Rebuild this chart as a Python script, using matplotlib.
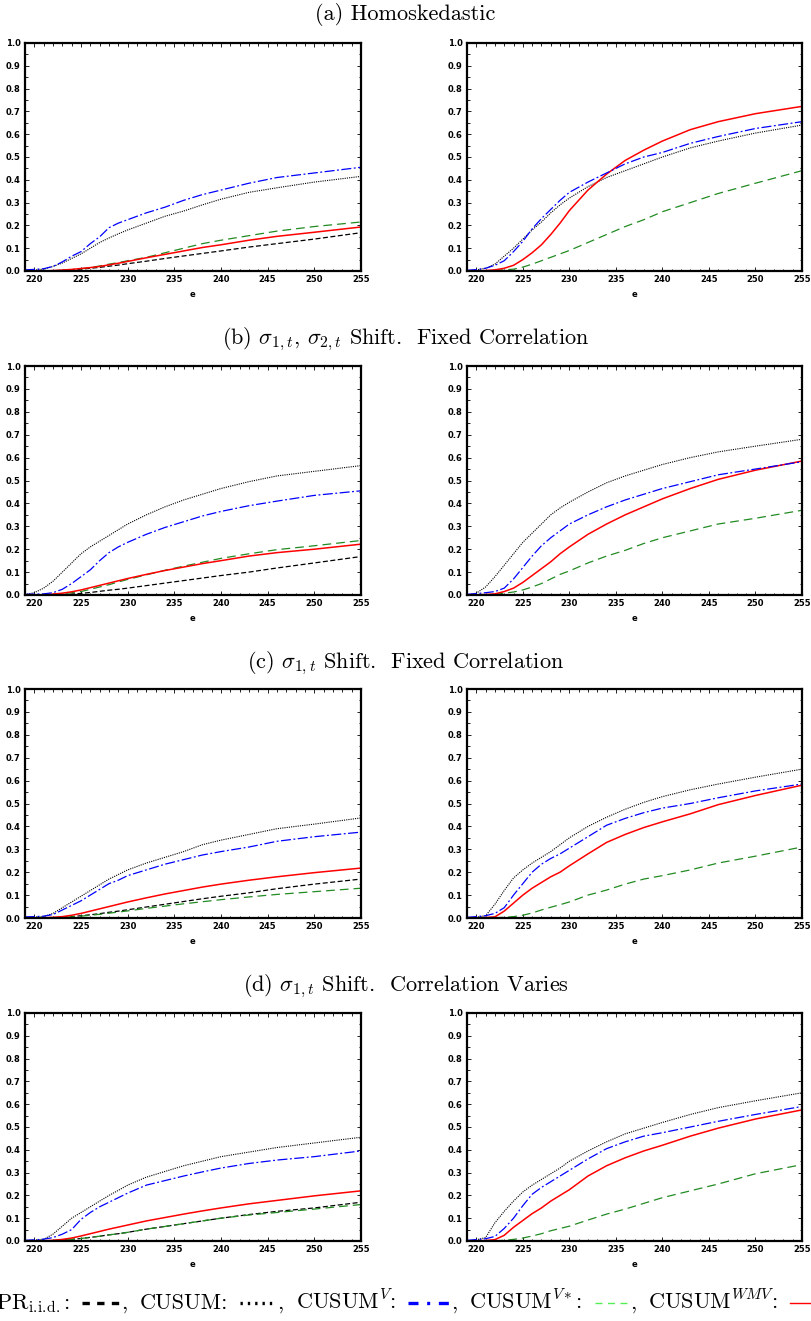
import numpy as np
import matplotlib
matplotlib.use('Agg')
from matplotlib import pyplot as plt
from matplotlib.lines import Line2D
from matplotlib.ticker import MultipleLocator, FormatStrFormatter

plt.rcParams['mathtext.fontset'] = 'cm'

# ---------------------------------------------------------------
# data (e on x, rejection freq on y)
# ---------------------------------------------------------------
e = [219, 220, 221, 222, 223, 224, 225, 226, 227, 228, 229, 230,
     232, 234, 236, 238, 240, 243, 246, 250, 255]

titles = [r'(a) Homoskedastic',
          r'(b) $\sigma_{1,t}$, $\sigma_{2,t}$ Shift.  Fixed Correlation',
          r'(c) $\sigma_{1,t}$ Shift.  Fixed Correlation',
          r'(d) $\sigma_{1,t}$ Shift.  Correlation Varies']

# panel (a)
a_left_pr = [0, 0, 0, 0.001, 0.003, 0.005, 0.008, 0.012, 0.016, 0.021, 0.026, 0.032, 0.043, 0.055, 0.066, 0.077, 0.088, 0.105, 0.12, 0.14, 0.168]
a_left_cusum = [0.003, 0.004, 0.008, 0.02, 0.035, 0.055, 0.075, 0.10, 0.125, 0.145, 0.163, 0.18, 0.21, 0.24, 0.263, 0.29, 0.315, 0.345, 0.365, 0.39, 0.415]
a_left_cusumv = [0.005, 0.007, 0.01, 0.02, 0.04, 0.065, 0.085, 0.12, 0.15, 0.19, 0.21, 0.225, 0.255, 0.28, 0.31, 0.335, 0.355, 0.385, 0.41, 0.43, 0.455]
a_left_vstar = [0, 0, 0, 0.001, 0.003, 0.006, 0.01, 0.015, 0.022, 0.03, 0.037, 0.045, 0.06, 0.08, 0.1, 0.12, 0.135, 0.155, 0.175, 0.195, 0.215]
a_left_wmv = [0, 0, 0, 0.002, 0.004, 0.007, 0.011, 0.015, 0.02, 0.027, 0.034, 0.042, 0.058, 0.073, 0.088, 0.103, 0.115, 0.135, 0.152, 0.17, 0.193]

a_right_cusum = [0.002, 0.005, 0.012, 0.03, 0.065, 0.1, 0.14, 0.18, 0.215, 0.255, 0.29, 0.32, 0.37, 0.41, 0.44, 0.47, 0.5, 0.54, 0.57, 0.605, 0.64]
a_right_cusumv = [0.003, 0.006, 0.012, 0.025, 0.045, 0.085, 0.13, 0.185, 0.23, 0.27, 0.31, 0.345, 0.39, 0.43, 0.47, 0.5, 0.52, 0.56, 0.59, 0.625, 0.655]
a_right_vstar = [0, 0, 0, 0.002, 0.005, 0.008, 0.017, 0.03, 0.045, 0.06, 0.075, 0.09, 0.125, 0.16, 0.195, 0.225, 0.26, 0.3, 0.34, 0.385, 0.44]
a_right_wmv = [0, 0, 0.002, 0.005, 0.012, 0.025, 0.05, 0.08, 0.115, 0.16, 0.21, 0.265, 0.355, 0.425, 0.485, 0.53, 0.57, 0.62, 0.655, 0.69, 0.722]

# panel (b)
b_left_pr = [0, 0, 0, 0.001, 0.002, 0.004, 0.007, 0.011, 0.016, 0.021, 0.025, 0.03, 0.041, 0.052, 0.063, 0.074, 0.085, 0.1, 0.118, 0.14, 0.168]
b_left_cusum = [0.002, 0.01, 0.03, 0.06, 0.1, 0.14, 0.18, 0.21, 0.235, 0.26, 0.285, 0.31, 0.35, 0.385, 0.415, 0.44, 0.465, 0.495, 0.52, 0.54, 0.565]
b_left_cusumv = [0.003, 0.004, 0.005, 0.01, 0.025, 0.05, 0.08, 0.11, 0.15, 0.185, 0.21, 0.23, 0.265, 0.295, 0.32, 0.345, 0.365, 0.39, 0.41, 0.435, 0.455]
b_left_vstar = [0, 0, 0, 0.002, 0.005, 0.01, 0.015, 0.025, 0.035, 0.045, 0.057, 0.068, 0.088, 0.108, 0.126, 0.143, 0.16, 0.18, 0.198, 0.215, 0.238]
b_left_wmv = [0, 0, 0.001, 0.004, 0.008, 0.014, 0.022, 0.032, 0.042, 0.052, 0.062, 0.072, 0.09, 0.107, 0.122, 0.137, 0.15, 0.17, 0.185, 0.2, 0.222]

b_right_cusum = [0, 0.008, 0.035, 0.08, 0.13, 0.18, 0.23, 0.27, 0.31, 0.35, 0.38, 0.405, 0.45, 0.49, 0.52, 0.545, 0.57, 0.6, 0.625, 0.65, 0.68]
b_right_cusumv = [0.003, 0.006, 0.01, 0.015, 0.03, 0.07, 0.12, 0.17, 0.215, 0.25, 0.28, 0.31, 0.35, 0.385, 0.415, 0.44, 0.465, 0.495, 0.525, 0.55, 0.582]
b_right_vstar = [0, 0, 0, 0.002, 0.008, 0.013, 0.022, 0.035, 0.05, 0.07, 0.09, 0.105, 0.14, 0.17, 0.195, 0.225, 0.25, 0.28, 0.31, 0.335, 0.37]
b_right_wmv = [0, 0.001, 0.002, 0.005, 0.015, 0.03, 0.055, 0.085, 0.115, 0.145, 0.18, 0.21, 0.265, 0.31, 0.35, 0.385, 0.42, 0.465, 0.505, 0.545, 0.585]

# panel (c)
c_left_pr = [0, 0, 0, 0.001, 0.003, 0.006, 0.01, 0.014, 0.019, 0.025, 0.03, 0.036, 0.048, 0.06, 0.072, 0.084, 0.095, 0.11, 0.128, 0.148, 0.17]
c_left_cusum = [0.002, 0.004, 0.006, 0.02, 0.045, 0.07, 0.095, 0.12, 0.145, 0.17, 0.19, 0.21, 0.24, 0.265, 0.29, 0.32, 0.34, 0.365, 0.39, 0.41, 0.437]
c_left_cusumv = [0.005, 0.006, 0.008, 0.015, 0.035, 0.055, 0.075, 0.1, 0.125, 0.15, 0.165, 0.185, 0.21, 0.235, 0.255, 0.275, 0.29, 0.31, 0.335, 0.355, 0.375]
c_left_vstar = [0, 0, 0, 0.001, 0.003, 0.005, 0.008, 0.012, 0.016, 0.021, 0.026, 0.031, 0.042, 0.052, 0.062, 0.071, 0.08, 0.092, 0.103, 0.115, 0.13]
c_left_wmv = [0, 0, 0.001, 0.003, 0.006, 0.012, 0.02, 0.03, 0.04, 0.05, 0.06, 0.07, 0.088, 0.105, 0.12, 0.135, 0.148, 0.165, 0.18, 0.198, 0.218]

c_right_cusum = [0, 0.003, 0.01, 0.06, 0.12, 0.175, 0.21, 0.24, 0.265, 0.29, 0.32, 0.35, 0.4, 0.44, 0.475, 0.505, 0.53, 0.56, 0.585, 0.615, 0.65]
c_right_cusumv = [0.003, 0.006, 0.01, 0.02, 0.045, 0.1, 0.15, 0.2, 0.235, 0.26, 0.28, 0.305, 0.355, 0.405, 0.435, 0.46, 0.48, 0.5, 0.525, 0.555, 0.585]
c_right_vstar = [0, 0, 0, 0.001, 0.003, 0.006, 0.012, 0.022, 0.035, 0.047, 0.058, 0.07, 0.1, 0.122, 0.148, 0.17, 0.185, 0.21, 0.24, 0.27, 0.31]
c_right_wmv = [0, 0.001, 0.002, 0.005, 0.03, 0.065, 0.1, 0.13, 0.155, 0.18, 0.2, 0.228, 0.28, 0.33, 0.365, 0.395, 0.42, 0.455, 0.495, 0.535, 0.58]

# panel (d)
d_left_pr = [0, 0, 0, 0.002, 0.004, 0.007, 0.011, 0.016, 0.021, 0.027, 0.032, 0.038, 0.052, 0.064, 0.076, 0.088, 0.1, 0.116, 0.13, 0.145, 0.17]
d_left_cusum = [0.002, 0.004, 0.008, 0.03, 0.065, 0.1, 0.125, 0.15, 0.175, 0.2, 0.222, 0.245, 0.28, 0.305, 0.33, 0.35, 0.37, 0.39, 0.41, 0.43, 0.455]
d_left_cusumv = [0.003, 0.005, 0.008, 0.015, 0.03, 0.05, 0.095, 0.125, 0.15, 0.17, 0.19, 0.21, 0.245, 0.265, 0.285, 0.303, 0.32, 0.34, 0.355, 0.37, 0.395]
d_left_vstar = [0, 0, 0, 0.002, 0.004, 0.007, 0.011, 0.016, 0.021, 0.027, 0.032, 0.038, 0.052, 0.064, 0.076, 0.088, 0.1, 0.114, 0.125, 0.14, 0.16]
d_left_wmv = [0, 0, 0.001, 0.003, 0.007, 0.013, 0.022, 0.032, 0.042, 0.052, 0.061, 0.07, 0.088, 0.103, 0.118, 0.132, 0.145, 0.163, 0.178, 0.198, 0.22]

d_right_cusum = [0, 0.005, 0.015, 0.08, 0.13, 0.175, 0.215, 0.245, 0.27, 0.295, 0.32, 0.35, 0.395, 0.435, 0.47, 0.495, 0.52, 0.555, 0.585, 0.615, 0.65]
d_right_cusumv = [0.003, 0.006, 0.01, 0.02, 0.055, 0.1, 0.155, 0.205, 0.235, 0.26, 0.285, 0.31, 0.36, 0.405, 0.435, 0.46, 0.475, 0.5, 0.525, 0.555, 0.59]
d_right_vstar = [0, 0, 0, 0.001, 0.003, 0.007, 0.013, 0.022, 0.032, 0.045, 0.055, 0.065, 0.092, 0.118, 0.14, 0.165, 0.19, 0.22, 0.25, 0.295, 0.335]
d_right_wmv = [0, 0.001, 0.002, 0.006, 0.025, 0.06, 0.09, 0.12, 0.145, 0.175, 0.2, 0.225, 0.285, 0.33, 0.365, 0.395, 0.42, 0.46, 0.495, 0.535, 0.575]

panels = [
    ({'pr': a_left_pr, 'cusum': a_left_cusum, 'cusumv': a_left_cusumv, 'vstar': a_left_vstar, 'wmv': a_left_wmv},
     {'cusum': a_right_cusum, 'cusumv': a_right_cusumv, 'vstar': a_right_vstar, 'wmv': a_right_wmv}),
    ({'pr': b_left_pr, 'cusum': b_left_cusum, 'cusumv': b_left_cusumv, 'vstar': b_left_vstar, 'wmv': b_left_wmv},
     {'cusum': b_right_cusum, 'cusumv': b_right_cusumv, 'vstar': b_right_vstar, 'wmv': b_right_wmv}),
    ({'pr': c_left_pr, 'cusum': c_left_cusum, 'cusumv': c_left_cusumv, 'vstar': c_left_vstar, 'wmv': c_left_wmv},
     {'cusum': c_right_cusum, 'cusumv': c_right_cusumv, 'vstar': c_right_vstar, 'wmv': c_right_wmv}),
    ({'pr': d_left_pr, 'cusum': d_left_cusum, 'cusumv': d_left_cusumv, 'vstar': d_left_vstar, 'wmv': d_left_wmv},
     {'cusum': d_right_cusum, 'cusumv': d_right_cusumv, 'vstar': d_right_vstar, 'wmv': d_right_wmv}),
]

# line styles for each statistic
styles = {
    'pr':     dict(color='black', linestyle=(0, (4, 2)), linewidth=0.9),
    'cusum':  dict(color='black', linestyle=(0, (1, 1)), linewidth=0.8),
    'cusumv': dict(color='blue', linestyle=(0, (8, 2, 1.5, 2)), linewidth=0.9),
    'vstar':  dict(color='#228b22', linestyle=(0, (7, 4)), linewidth=0.9),
    'wmv':    dict(color='red', linestyle='-', linewidth=1.1),
}
order = ['pr', 'cusum', 'vstar', 'wmv', 'cusumv']

W, H = 811, 1321
fig = plt.figure(figsize=(W / 100, H / 100), dpi=100)

rows_px = [(43, 271), (366, 595), (689, 918), (1013, 1241)]
cols_px = [(25, 361), (467, 802)]
title_y = [14, 339, 663, 986]

tick_font = dict(family='DejaVu Sans', weight='bold', size=6)

for r, (top, bot) in enumerate(rows_px):
    fig.text(0.5, 1 - title_y[r] / H, titles[r], ha='center', va='center',
             fontsize=16, family='cmr10')
    for c, (lft, rgt) in enumerate(cols_px):
        ax = fig.add_axes([lft / W, 1 - bot / H, (rgt - lft) / W, (bot - top) / H])
        series = panels[r][c]
        for key in order:
            if key in series:
                ax.plot(e, series[key], **styles[key])
        ax.set_xlim(219, 255)
        ax.set_ylim(0, 1)
        ax.xaxis.set_minor_locator(MultipleLocator(1))
        ax.set_xticks(range(220, 256, 5))
        ax.yaxis.set_major_locator(MultipleLocator(0.1))
        ax.yaxis.set_minor_locator(MultipleLocator(0.05))
        ax.yaxis.set_major_formatter(FormatStrFormatter('%.1f'))
        ax.tick_params(which='both', direction='in', top=True, right=True, width=0.6)
        ax.tick_params(which='major', length=3, pad=3)
        ax.tick_params(which='minor', length=1.8)
        for lab in ax.get_xticklabels() + ax.get_yticklabels():
            lab.set_fontfamily('DejaVu Sans')
            lab.set_fontweight('bold')
            lab.set_fontsize(6)
        for sp in ax.spines.values():
            sp.set_linewidth(1.6)
        ax.set_xlabel('e', fontdict=tick_font, labelpad=4)

# ---------------------------------------------------------------
# caption-style legend along the bottom (justified line, cut at edges)
# ---------------------------------------------------------------
renderer = fig.canvas.get_renderer()
leg_y = 1 - 1309 / H
leg_size = 16
line_lift = 6.0  # px above baseline

pieces = [
    ('text', r'PR$_{\mathrm{i.\!i.\!d.}}$:'), ('gap',),
    ('line', dict(color='black', linestyle=(0, (2.2, 2.2)), linewidth=2.4), 38),
    ('text', ','), ('gap',),
    ('text', 'CUSUM:'), ('gap',),
    ('line', dict(color='black', linestyle=(0, (0.7, 1.5)), linewidth=2.4), 36),
    ('text', ','), ('gap',),
    ('text', r'CUSUM$^{V}$:'), ('gap',),
    ('line', dict(color='blue', linestyle=(0, (3.0, 2.6, 0.9, 2.6)), linewidth=2.4), 42),
    ('text', ','), ('gap',),
    ('text', r'CUSUM$^{V*}$:'), ('gap',),
    ('line', dict(color='#55ee55', linestyle=(0, (5, 4)), linewidth=1.0), 34),
    ('text', ','), ('gap',),
    ('text', r'CUSUM$^{WMV}$:'), ('gap',),
    ('line', dict(color='red', linestyle='-', linewidth=1.0), 40),
]

# measure natural widths first
widths = []
for p in pieces:
    if p[0] == 'text':
        t = fig.text(0, 0, p[1], fontsize=leg_size, family='cmr10')
        widths.append(t.get_window_extent(renderer).width)
        t.remove()
    elif p[0] == 'line':
        widths.append(p[2])
    else:
        widths.append(0)

x_start, red_start = -4.0, 786.0
fixed = sum(widths[:-1])
n_gaps = sum(1 for p in pieces if p[0] == 'gap')
gap = (red_start - x_start - fixed) / n_gaps

x_px = x_start
for p, w in zip(pieces, widths):
    if p[0] == 'text':
        fig.text(x_px / W, leg_y, p[1], ha='left', va='baseline',
                 fontsize=leg_size, family='cmr10')
        x_px += w
    elif p[0] == 'line':
        ly = leg_y + line_lift / H
        fig.add_artist(Line2D([x_px / W, (x_px + w) / W], [ly, ly],
                              transform=fig.transFigure, **p[1]))
        x_px += w + 1
    else:
        x_px += gap

fig.savefig('out.png', dpi=100, facecolor='w')
